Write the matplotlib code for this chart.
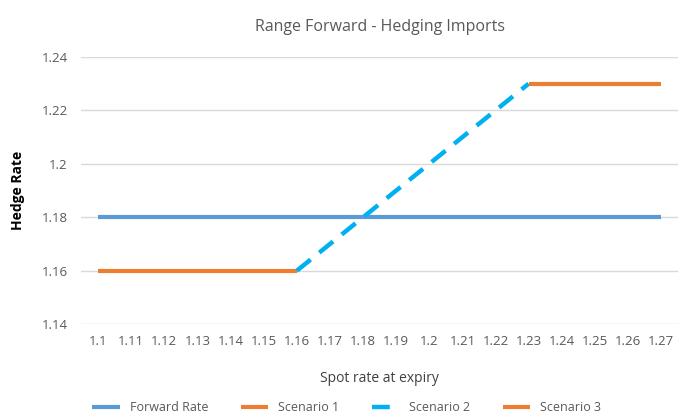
import numpy as np
import matplotlib.pyplot as plt

plt.rcParams['font.family'] = ['Open Sans', 'DejaVu Sans']

# Data
spot = ['1.1', '1.11', '1.12', '1.13', '1.14', '1.15', '1.16', '1.17', '1.18',
        '1.19', '1.2', '1.21', '1.22', '1.23', '1.24', '1.25', '1.26', '1.27']
nan = np.nan
forward_rate = [1.18] * 18
scenario_1 = [1.16, 1.16, 1.16, 1.16, 1.16, 1.16, 1.16] + [nan] * 11
scenario_2 = [nan] * 6 + [1.16, 1.17, 1.18, 1.19, 1.20, 1.21, 1.22, 1.23] + [nan] * 4
scenario_3 = [nan] * 13 + [1.23, 1.23, 1.23, 1.23, 1.23]

x = np.arange(len(spot))

fig = plt.figure(figsize=(6.79, 4.13), dpi=100)
ax = fig.add_axes([0.12, 0.215, 0.878, 0.647])

ax.plot(x, forward_rate, color='#5B9BD5', lw=3, label='Forward Rate', solid_capstyle='butt')
ax.plot(x, scenario_1, color='#ED7D31', lw=3, label='Scenario 1', solid_capstyle='butt')
ax.plot(x, scenario_2, color='#00B0F0', lw=3.2, ls=(0, (4, 2.5)), label='Scenario 2',
        dash_capstyle='butt')
ax.plot(x, scenario_3, color='#ED7D31', lw=3, label='Scenario 3', solid_capstyle='butt')

ax.set_xlim(-0.5, len(spot) - 0.5)
ax.set_ylim(1.14, 1.24)
ax.set_yticks([1.14, 1.16, 1.18, 1.20, 1.22, 1.24])
ax.set_yticklabels(['1.14', '1.16', '1.18', '1.2', '1.22', '1.24'])
ax.set_xticks(x)
ax.set_xticklabels(spot)

ax.grid(axis='y', color='#D9D9D9', lw=1)
ax.set_axisbelow(True)
for s in ax.spines.values():
    s.set_visible(False)
ax.tick_params(length=0, colors='#595959', labelsize=9.5)
ax.tick_params(axis='x', pad=8)
ax.tick_params(axis='y', pad=10)

ax.set_title('Range Forward - Hedging Imports', color='#595959', fontsize=11.5, pad=19)
ax.set_xlabel('Spot rate at expiry', color='#404040', fontsize=10, labelpad=16)
ax.set_ylabel('Hedge Rate', color='black', fontsize=10, fontweight='bold', labelpad=12)

ax.legend(loc='upper center', bbox_to_anchor=(0.445, -0.245), ncol=4, frameon=False,
          fontsize=9, labelcolor='#595959', handlelength=2.2, columnspacing=2.6)

fig.savefig('out.png', dpi=100)
